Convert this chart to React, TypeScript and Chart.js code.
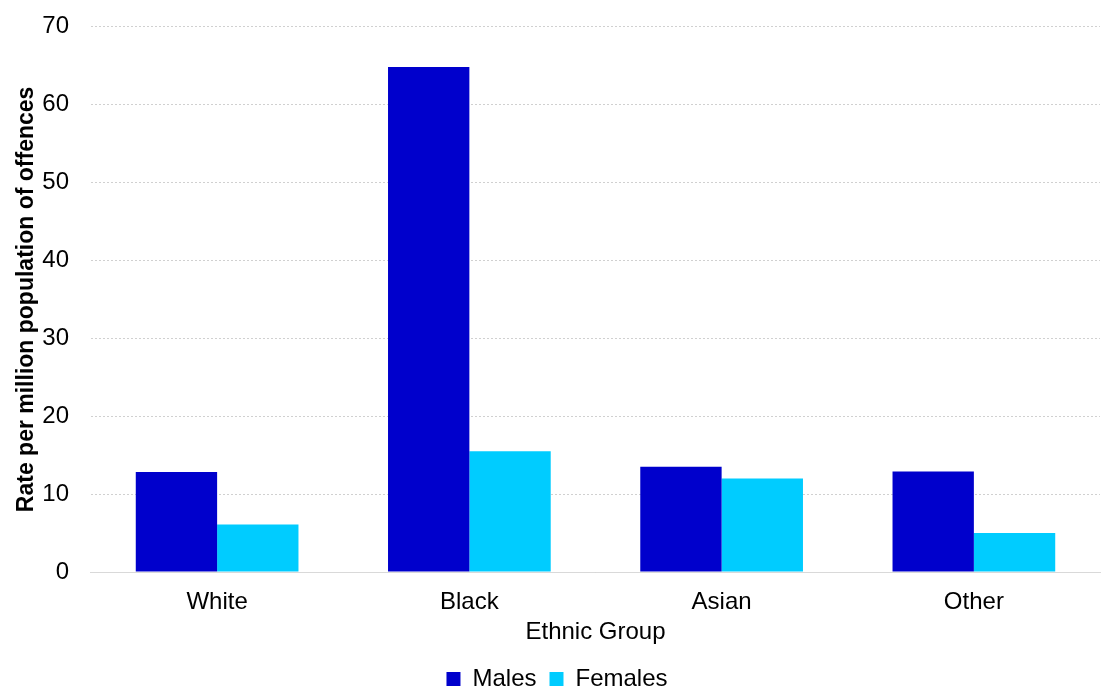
import React, { useEffect, useRef } from "react";
import { Chart, registerables } from "chart.js";

Chart.register(...registerables);

const categories = ["White", "Black", "Asian", "Other"];
const males = [12.85, 64.85, 13.5, 12.9];
const females = [6.1, 15.5, 12.0, 5.0];
const yTicks = [0, 10, 20, 30, 40, 50, 60, 70];

export default function App() {
  const ref = useRef<HTMLCanvasElement>(null);
  useEffect(() => {
    if (!ref.current) return;
    const font = "'Liberation Sans', Arial, sans-serif";
    const chart = new Chart(ref.current, {
      type: "bar",
      data: {
        labels: categories,
        datasets: [
          { label: "Males", data: males, backgroundColor: "#0000CC", borderWidth: 0, categoryPercentage: 0.645, barPercentage: 1 },
          { label: "Females", data: females, backgroundColor: "#00CCFF", borderWidth: 0, categoryPercentage: 0.645, barPercentage: 1 },
        ],
      },
      options: {
        animation: false,
        responsive: false,
        maintainAspectRatio: false,
        layout: { padding: { left: 14, right: 2, top: 0, bottom: -15 } },
        plugins: {
          tooltip: { enabled: false },
          legend: {
            position: "bottom",
            labels: {
              color: "#000",
              font: { family: font, size: 24, lineHeight: 1 },
              boxWidth: 14,
              boxHeight: 14,
              padding: 13,
            },
          },
        },
        scales: {
          x: {
            grid: { display: false, drawTicks: false },
            border: { display: true, color: "#d9d9d9", width: 1 },
            ticks: { color: "#000", font: { family: font, size: 24, lineHeight: 1 }, padding: 18 },
            title: { display: true, text: "Ethnic Group", color: "#000", font: { family: font, size: 24, lineHeight: 1 }, padding: { top: -12, bottom: 10 } },
          },
          y: {
            min: 0,
            max: 70,
            afterBuildTicks: (axis: any) => {
              axis.ticks = yTicks.map((v) => ({ value: v }));
            },
            grid: { color: "#d0d0d0", drawTicks: false, lineWidth: 1 },
            border: { display: false, dash: [2, 2] },
            ticks: { color: "#000", font: { family: font, size: 24, lineHeight: 0.4 }, padding: 22 },
            title: { display: true, text: "Rate per million population of offences", color: "#000", font: { family: font, size: 23, weight: "bold", lineHeight: 1.1 }, padding: { top: 0, bottom: -19 } },
          },
        },
      },
    });
    return () => chart.destroy();
  }, []);
  return (
    <div style={{ position: "fixed", left: 0, top: 0, width: 1102, height: 686, background: "#fff" }}>
      <canvas ref={ref} width={1102} height={686} style={{ width: 1102, height: 686 }} />
    </div>
  );
}
